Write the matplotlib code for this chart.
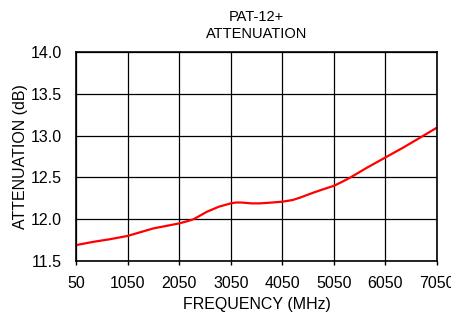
import matplotlib
matplotlib.use("Agg")
import matplotlib.pyplot as plt

plt.rcParams['font.family'] = ['Liberation Sans', 'DejaVu Sans']

freq = [50, 390, 700, 1050, 1300, 1550, 1800, 2050, 2200, 2330, 2460, 2590, 2820, 3050, 3150, 3260, 3450, 3620, 3850,
        4050, 4250, 4400, 4530, 4660, 4850, 5050, 5200, 5370, 5700, 6050, 6400, 6730, 7030]
atten = [11.69, 11.73, 11.76, 11.80, 11.845, 11.89, 11.92, 11.95, 11.975, 12.00, 12.045, 12.09, 12.15, 12.19, 12.20, 12.20, 12.19, 12.19, 12.20,
         12.21, 12.23, 12.26, 12.29, 12.32, 12.36, 12.40, 12.445, 12.50, 12.62, 12.74, 12.86, 12.98, 13.09]
xticks = [50, 1050, 2050, 3050, 4050, 5050, 6050, 7050]
yticks = [11.5, 12.0, 12.5, 13.0, 13.5, 14.0]

fig = plt.figure(figsize=(4.52, 3.16), dpi=100)
ax = fig.add_axes([0.168, 0.174, 0.799, 0.661])
ax.plot(freq, atten, color='#ff0000', lw=1.6)
ax.set_xlim(50, 7050)
ax.set_ylim(11.5, 14.0)
ax.set_xticks(xticks)
ax.set_yticks(yticks)
ax.set_yticklabels([f"{v:.1f}" for v in yticks])
ax.grid(True, color='black', lw=0.9)
for s in ax.spines.values():
    s.set_color('black'); s.set_linewidth(1.2)
ax.tick_params(axis='x', length=3, width=1, labelsize=11.5, pad=8)
ax.tick_params(axis='y', length=0, labelsize=11.5, pad=10)
ax.set_xlabel('FREQUENCY (MHz)', fontsize=11.5, labelpad=4)
ax.set_ylabel('ATTENUATION (dB)', fontsize=11.5, labelpad=2)
ax.set_title('PAT-12+\nATTENUATION', fontsize=10.5, pad=10, linespacing=1.3)
fig.savefig('out.png', dpi=100)
